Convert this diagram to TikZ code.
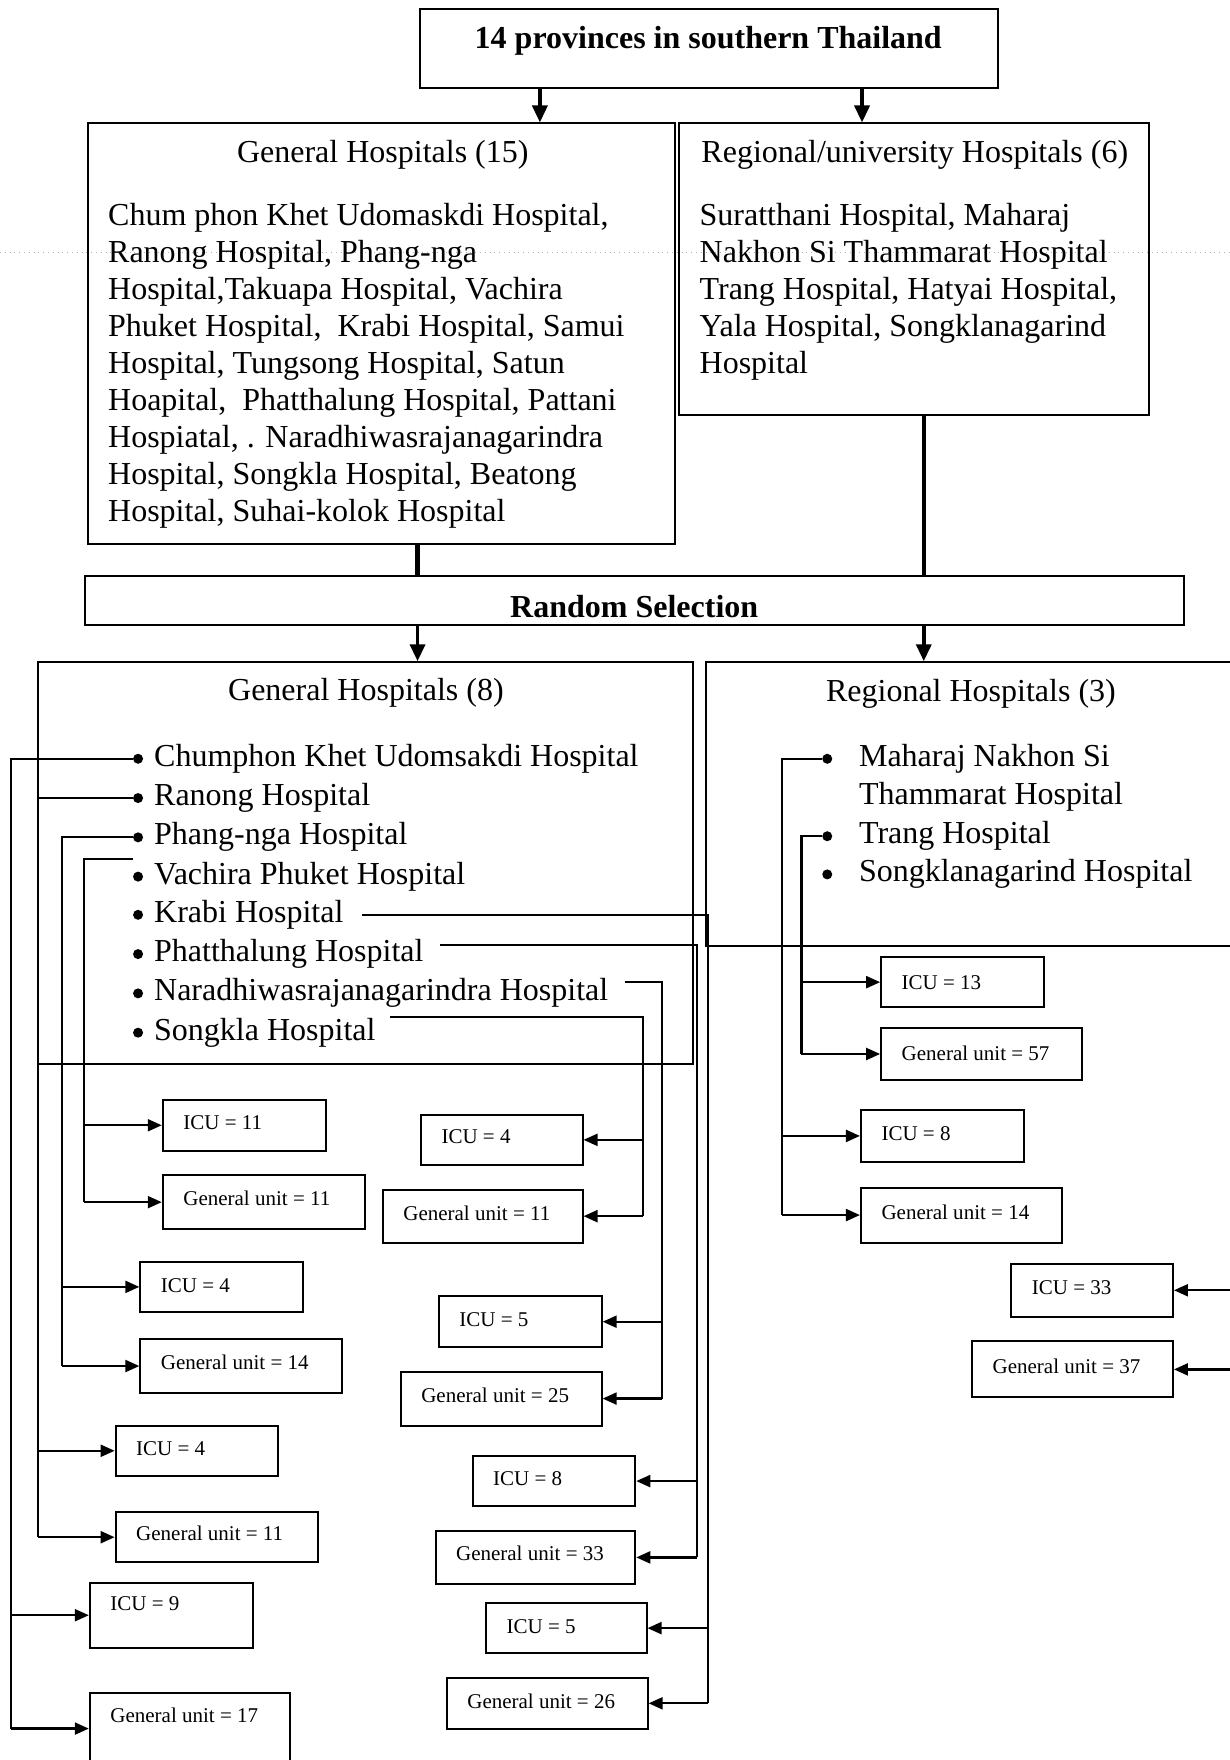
\documentclass[tikz,border=0pt]{standalone}
\usepackage{fontspec}
\setmainfont{Liberation Serif}
\usetikzlibrary{arrows.meta,fit}

% name, x1, y1, x2, y2, text y, text
\newcommand\unitbox[7]{%
  \node[ubox, fit={(#2,#3) (#4,#5)}] (#1) {};
  \node[utext] (#1-t) at (#2+18,#6) {#7};}

\begin{document}
\begin{tikzpicture}[x=0.5612pt, y=-0.5612pt, >={Triangle[length=7pt,width=6pt]},
  every node/.style={inner sep=0pt},
  box/.style={draw, line width=1pt},
  ubox/.style={draw, line width=1pt},
  big/.style={font=\fontsize{16}{18.5}\selectfont},
  head/.style={font=\fontsize{16}{18.5}\selectfont\bfseries},
  utext/.style={anchor=west, font=\fontsize{10.5}{12}\selectfont},
  item/.style={anchor=west, font=\fontsize{16}{18.5}\selectfont, text height=11pt, text depth=3.5pt},
  dot/.style={circle, fill, minimum size=5pt},
  ln/.style={line width=1.1pt},
  arr/.style={line width=1.1pt, ->},
  bar/.style={line width=2.2pt},
  down/.style={line width=1.8pt, -{Triangle[length=8.5pt,width=7.5pt]}}]
  \useasboundingbox (0,0) rectangle (1095,1568);
  \draw[gray!60, dotted] (0,225) -- (1095,225);

  % sampling frame
  \node[box, fit={(374,8) (889,78)}] (top) {};
  \node[head] (top-t) at (631,36) {14 provinces in southern Thailand};
  \node[box, fit={(78,110) (601,485)}] (gen15) {};
  \node[big] (gen15-t) at (341,138) {General Hospitals (15)};
  \node[big, anchor=north west, align=left] (gen15-l) at (96,181) {Chum phon Khet Udomaskdi Hospital,\\
    Ranong Hospital, Phang-nga\\ Hospital,Takuapa Hospital, Vachira\\
    Phuket Hospital,\ \ Krabi Hospital, Samui\\ Hospital, Tungsong Hospital, Satun\\
    Hoapital,\ \ Phatthalung Hospital, Pattani\\ Hospiatal, . Naradhiwasrajanagarindra\\
    Hospital, Songkla Hospital, Beatong\\ Hospital, Suhai-kolok Hospital};
  \node[box, fit={(605,110) (1024,370)}] (reg6) {};
  \node[big] (reg6-t) at (815,138) {Regional/university Hospitals (6)};
  \node[big, anchor=north west, align=left] (reg6-l) at (623,181) {Suratthani Hospital, Maharaj\\
    Nakhon Si Thammarat Hospital\\ Trang Hospital, Hatyai Hospital,\\
    Yala Hospital, Songklanagarind\\ Hospital};
  \node[box, fit={(76,513) (1055,557)}] (sel) {};
  \node[head] (sel-t) at (565,540) {Random Selection};

  \coordinate (aL) at (481,0); \coordinate (aR) at (768,0);
  \coordinate (cL) at (372,0); \coordinate (cR) at (823,0);
  \draw[down] (aL |- top.south) -- (aL |- gen15.north);
  \draw[down] (aR |- top.south) -- (aR |- reg6.north);
  \draw[bar] (cL |- gen15.south) -- (cL |- sel.north);
  \draw[bar] (cR |- reg6.south) -- (cR |- sel.north);

  % selected hospitals
  \node[box, fit={(34,590) (617,948)}] (gen8) {};
  \node[big] (gen8-t) at (326,617) {General Hospitals (8)};
  \node[box, fit={(629,590) (1120,843)}] (reg3) {};
  \node[big] (reg3-t) at (865,618) {Regional Hospitals (3)};
  \draw[down] (cL |- sel.south) -- (cL |- gen8.north);
  \draw[down] (cR |- sel.south) -- (cR |- reg3.north);

  \foreach \y/\n/\t in {676/chu/Chumphon Khet Udomsakdi Hospital, 711/ran/Ranong Hospital,
      746/pha/Phang-nga Hospital, 781/vac/Vachira Phuket Hospital, 815/kra/Krabi Hospital,
      850/pht/Phatthalung Hospital, 885/nar/Naradhiwasrajanagarindra Hospital, 920/son/Songkla Hospital}
    {\node[dot] (\n) at (123,\y) {};
     \node[item] (\n-t) at (137,\y) {\t};}
  \node[dot] (mah) at (737,676) {};
  \node[item] (mah-t) at (765,676) {Maharaj Nakhon Si};
  \node[item] (mah-t2) at (765,710) {Thammarat Hospital};
  \node[dot] (tra) at (737,745) {};
  \node[item] (tra-t) at (765,745) {Trang Hospital};
  \node[dot] (skn) at (737,779) {};
  \node[item] (skn-t) at (765,779) {Songklanagarind Hospital};

  % wards
  \unitbox{chu-icu}{80}{1410}{225}{1468}{1429}{ICU = 9}
  \unitbox{chu-gen}{80}{1508}{258}{1572}{1528}{General unit = 17}
  \unitbox{ran-icu}{103}{1270}{248}{1315}{1291}{ICU = 4}
  \unitbox{ran-gen}{103}{1347}{283}{1392}{1366}{General unit = 11}
  \unitbox{pha-icu}{125}{1124}{270}{1169}{1145}{ICU = 4}
  \unitbox{pha-gen}{125}{1193}{305}{1241}{1214}{General unit = 14}
  \unitbox{vac-icu}{145}{980}{290}{1025}{1000}{ICU = 11}
  \unitbox{vac-gen}{145}{1047}{325}{1095}{1068}{General unit = 11}
  \unitbox{kra-icu}{433}{1428}{576}{1473}{1449}{ICU = 5}
  \unitbox{kra-gen}{398}{1495}{577}{1540}{1516}{General unit = 26}
  \unitbox{pht-icu}{421}{1297}{566}{1342}{1317}{ICU = 8}
  \unitbox{pht-gen}{388}{1364}{566}{1411}{1384}{General unit = 33}
  \unitbox{nar-icu}{391}{1155}{536}{1200}{1176}{ICU = 5}
  \unitbox{nar-gen}{357}{1222}{536}{1270}{1243}{General unit = 25}
  \unitbox{son-icu}{375}{993}{519}{1038}{1013}{ICU = 4}
  \unitbox{son-gen}{341}{1060}{519}{1107}{1081}{General unit = 11}
  \unitbox{mah-icu}{767}{989}{912}{1035}{1010}{ICU = 8}
  \unitbox{mah-gen}{767}{1058}{946}{1107}{1080}{General unit = 14}
  \unitbox{tra-icu}{785}{853}{930}{897}{875}{ICU = 13}
  \unitbox{tra-gen}{785}{916}{964}{962}{938}{General unit = 57}
  \unitbox{skn-icu}{901}{1126}{1045}{1173}{1147}{ICU = 33}
  \unitbox{skn-gen}{866}{1195}{1045}{1245}{1217}{General unit = 37}

  % trunks
  \foreach \n/\x in {chu/10, ran/34, pha/55, vac/75, kra/631, pht/621, nar/590, son/573,
      mah/697, tra/714, skn/1110}
    \coordinate (\n-x) at (\x,0);
  \foreach \n in {chu, ran, pha, mah, tra}
    \draw[ln] (\n.west) -| (\n-x |- \n-gen.west);
  \draw[ln] ([yshift=9pt]vac.west) -| (vac-x |- vac-gen.west);
  \draw[ln] ([xshift=9pt]kra-t.east) -| (kra-x |- kra-gen.east);
  \draw[ln] ([shift={(8pt,4.5pt)}]pht-t.east) -| (pht-x |- pht-gen.east);
  \draw[ln] ([shift={(8pt,5.6pt)}]nar-t.east) -| (nar-x |- nar-gen.east);
  \draw[ln] ([shift={(7pt,7.9pt)}]son-t.east) -| (son-x |- son-gen.east);
  \foreach \n in {chu, ran, pha, vac, mah, tra}
    {\draw[arr] (\n-x |- \n-icu.west) -- (\n-icu.west);
     \draw[arr] (\n-x |- \n-gen.west) -- (\n-gen.west);}
  \foreach \n in {kra, pht, nar, son, skn}
    {\draw[arr] (\n-x |- \n-icu.east) -- (\n-icu.east);
     \draw[arr] (\n-x |- \n-gen.east) -- (\n-gen.east);}
\end{tikzpicture}
\end{document}
